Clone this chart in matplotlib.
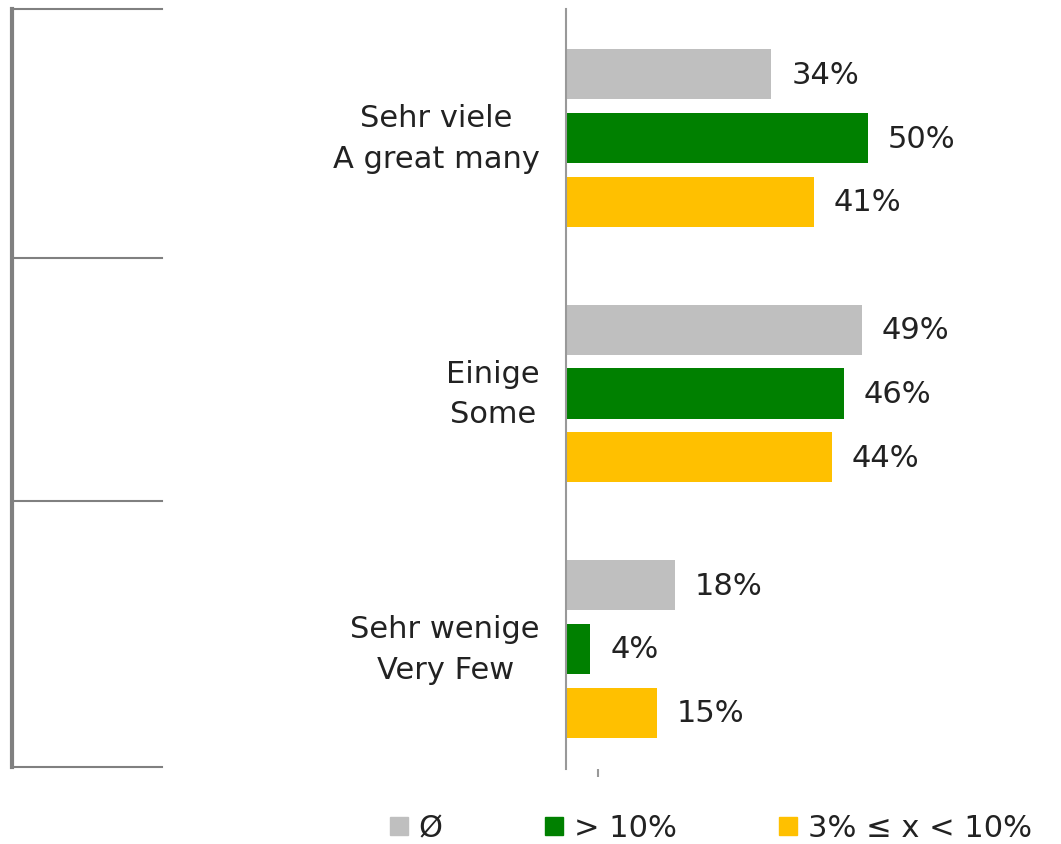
import numpy as np
import matplotlib.pyplot as plt
from matplotlib.lines import Line2D

categories = ["Sehr viele\nA great many", "Einige\nSome", "Sehr wenige\nVery Few"]
series_names = ["Ø", "> 10%", "3% ≤ x < 10%"]
avg_vals = [34, 49, 18]
high_vals = [50, 46, 4]
mid_vals = [41, 44, 15]
colors = ["#BFBFBF", "#008000", "#FFC000"]

plt.rcParams["font.family"] = ["DejaVu Sans"]
FS = 22
TXT = "#222222"

W, H = 1061, 845
fig = plt.figure(figsize=(W / 100, H / 100), dpi=100)
ax = fig.add_axes([566 / W, 1 - 770 / H, (1061 - 566) / W, 760 / H])

y = np.arange(len(categories))
offset = 0.25
height = 0.196
for i, (vals, col) in enumerate(zip([avg_vals, high_vals, mid_vals], colors)):
    pos = y + (i - 1) * offset
    bars = ax.barh(pos, vals, height=height, color=col, label=series_names[i])
    for b, v in zip(bars, vals):
        ax.text(b.get_width() + 3.3, b.get_y() + b.get_height() / 2, f"{v}%",
                va="center", ha="left", fontsize=FS, color=TXT)

ax.set_xlim(0, 82)
ax.set_ylim(2.47, -0.505)
ax.set_yticks([])
ax.set_xticks([5.3])
ax.set_xticklabels([])
ax.tick_params(axis="x", length=6, width=1.5, color="#999999", direction="out", pad=0)
for side in ["top", "right", "bottom"]:
    ax.spines[side].set_visible(False)
ax.spines["left"].set_color("#999999")
ax.spines["left"].set_linewidth(1.5)

# category labels to the left of the axis
for yi, cat in zip(y, categories):
    fig.text(540 / W, 1 - (139 + yi * 255.5) / H, cat, ha="right", va="center",
             multialignment="center", fontsize=FS, color=TXT, linespacing=1.5)

# table-like bracket on the far left
line_col = "#808080"
fig.add_artist(Line2D([11.5 / W, 11.5 / W], [1 - 10 / H, 1 - 768 / H],
                      color=line_col, lw=3, transform=fig.transFigure))
for yy in [10, 259, 502, 768]:
    fig.add_artist(Line2D([12 / W, 162 / W], [1 - yy / H, 1 - yy / H],
                          color=line_col, lw=1.5, transform=fig.transFigure))

handles = [Line2D([], [], marker="s", linestyle="", markersize=13,
                  markerfacecolor=c, markeredgecolor=c) for c in colors]
fig.legend(handles, series_names, loc="center", ncol=3,
           bbox_to_anchor=(710 / W, 1 - 829 / H), frameon=False,
           fontsize=FS, handlelength=0.7, handletextpad=0.3,
           columnspacing=3.3, labelcolor=TXT)

fig.savefig("out.png", dpi=100)
